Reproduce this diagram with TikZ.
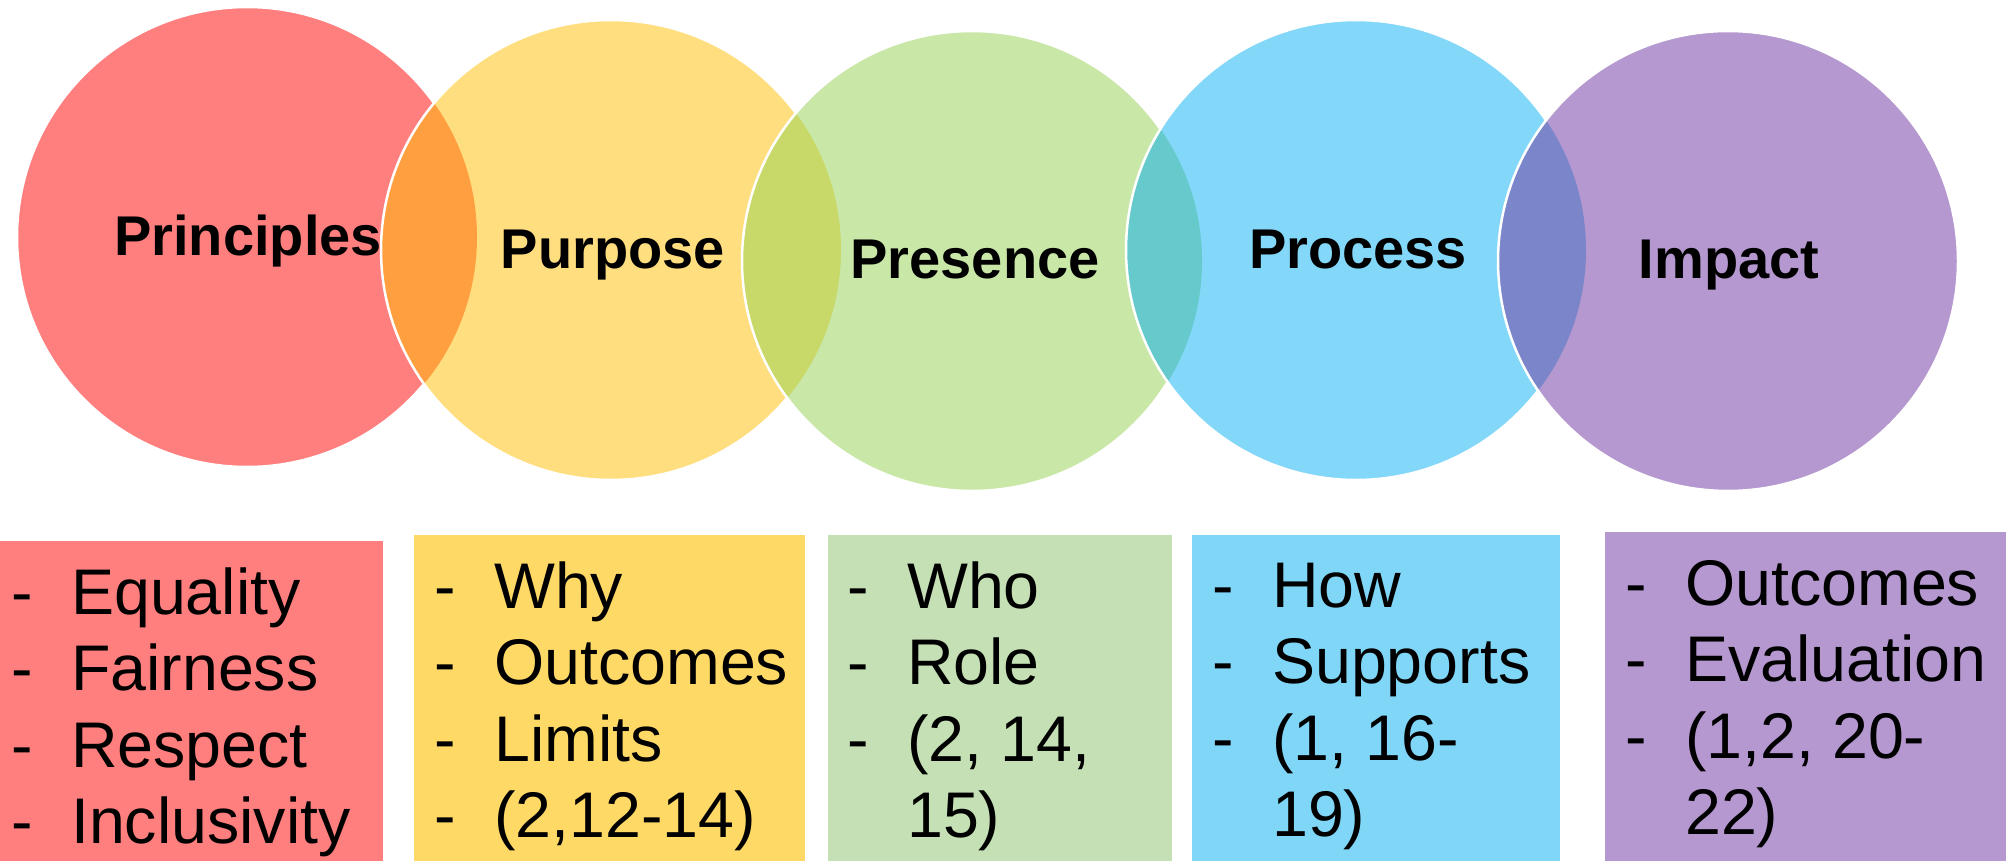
\documentclass[tikz,border=0pt]{standalone}
\usepackage{fontspec}
\setmainfont{Liberation Sans}
\definecolor{cred}{HTML}{FF7F7F}
\definecolor{cyel}{HTML}{FFDE80}
\definecolor{cgrn}{HTML}{C9E7A7}
\definecolor{cblu}{HTML}{83D7F8}
\definecolor{cpur}{HTML}{B598CF}
\definecolor{oRY}{HTML}{FF9F40}
\definecolor{oYG}{HTML}{C8D869}
\definecolor{oGB}{HTML}{66CACC}
\definecolor{oBP}{HTML}{7B85C9}
\definecolor{bred}{HTML}{FF7F7F}
\definecolor{byel}{HTML}{FFD966}
\definecolor{bgrn}{HTML}{C5E0B4}
\definecolor{bblu}{HTML}{80D6F7}
\definecolor{bpur}{HTML}{B598CF}
\tikzset{
  disc/.style={circle, minimum size=460pt, inner sep=0pt},
  rim/.style={draw=white, line width=2.5pt},
  lab/.style={anchor=base, inner sep=0pt, font=\fontsize{56}{60}\selectfont\bfseries},
  panel/.style={rectangle, anchor=north west, inner sep=0pt, minimum height=330pt},
  items/.style={anchor=base west, inner sep=0pt, font=\fontsize{64.5}{76.5}\selectfont}
}
\newcommand{\itemlist}[1]{\begin{tabular}[t]{@{}p{60pt}@{}l@{}}#1\end{tabular}}
\begin{document}
\begin{tikzpicture}[x=1pt,y=-1pt]
\useasboundingbox (0,0) rectangle (2015,861);
% circles
\node[disc, fill=cred, rim] (c1) at (247,237) {};
\node[disc, fill=cyel] (c2) at (611,250) {};
\begin{scope}\clip (c1.center) circle (230pt); \fill[oRY] (c2.center) circle (230pt);\end{scope}
\draw[rim] (c2.center) circle (230pt);
\node[disc, fill=cgrn] (c3) at (972,261) {};
\begin{scope}\clip (c2.center) circle (230pt); \fill[oYG] (c3.center) circle (230pt);\end{scope}
\draw[rim] (c3.center) circle (230pt);
\node[disc, fill=cblu] (c4) at (1356,250) {};
\begin{scope}\clip (c3.center) circle (230pt); \fill[oGB] (c4.center) circle (230pt);\end{scope}
\draw[rim] (c4.center) circle (230pt);
\node[disc, fill=cpur] (c5) at (1728,261) {};
\begin{scope}\clip (c4.center) circle (230pt); \fill[oBP] (c5.center) circle (230pt);\end{scope}
\draw[rim] (c5.center) circle (230pt);
% circle labels
\node[lab] (t1) at (248,255) {Principles};
\node[lab] (t2) at (613,268) {Purpose};
\node[lab] (t3) at (975,278) {Presence};
\node[lab] (t4) at (1358,268) {Process};
\node[lab] (t5) at (1729,278) {Impact};
% panels
\node[panel, fill=bred, minimum width=383pt] (b1) at (0,541) {};
\node[panel, fill=byel, minimum width=391pt] (b2) at (414,535) {};
\node[panel, fill=bgrn, minimum width=344pt] (b3) at (828,535) {};
\node[panel, fill=bblu, minimum width=368pt] (b4) at (1192,535) {};
\node[panel, fill=bpur, minimum width=401pt] (b5) at (1605,532) {};
% lists
\node[items] (l1) at (11,614) {\itemlist{-&Equality\\-&Fairness\\-&Respect\\-&Inclusivity}};
\node[items] (l2) at (434,608) {\itemlist{-&Why\\-&Outcomes\\-&Limits\\-&(2,12-14)}};
\node[items] (l3) at (847,608) {\itemlist{-&Who\\-&Role\\-&(2, 14,\\&15)}};
\node[items] (l4) at (1212,607) {\itemlist{-&How\\-&Supports\\-&(1, 16-\\&19)}};
\node[items] (l5) at (1625,605) {\itemlist{-&Outcomes\\-&Evaluation\\-&(1,2, 20-\\&22)}};
\end{tikzpicture}
\end{document}
